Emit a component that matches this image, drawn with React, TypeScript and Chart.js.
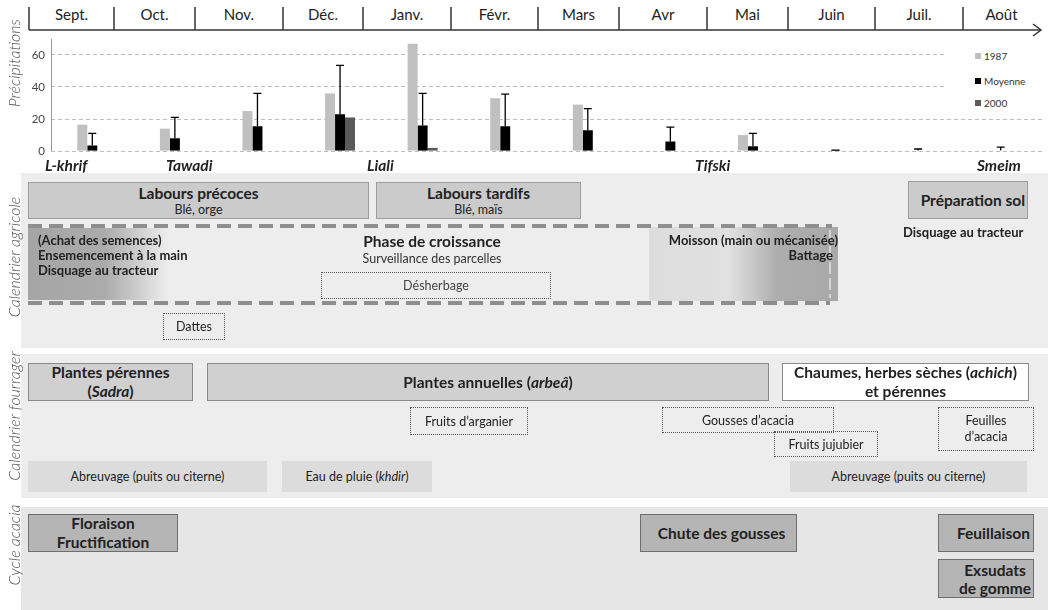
import React, { useEffect, useRef } from 'react';
import { Chart, registerables } from 'chart.js';

Chart.register(...registerables);

// ---------- data ----------
const months = ['Sept.', 'Oct.', 'Nov.', 'Déc.', 'Janv.', 'Févr.', 'Mars', 'Avr', 'Mai', 'Juin', 'Juil.', 'Août'];
const rain1987 = [16.5, 14, 25, 36, 67, 33, 29, 0, 10, 0, 0, 0];
const rainMean = [3.5, 8, 15.5, 23, 16, 15.5, 13, 6, 3, 0.5, 0.3, 0.3];
const rainMeanErrTop = [11, 21, 36, 53.5, 36, 35.5, 26.5, 15, 11, 0.6, 1.3, 2.5];
const rain2000 = [0, 0, 0, 21, 2, 0, 0, 0, 0, 0, 0, 0];
const yTicks = [0, 20, 40, 60];
const seriesNames = ['1987', 'Moyenne', '2000'];
const seasons = ['L-khrif', 'Tawadi', 'Liali', 'Tifski', 'Smeim'];

// ---------- layout / style ----------
const FF = 'Lato, "Open Sans", "Noto Sans", sans-serif';
const monthEdges = [29, 114, 195, 283, 363, 451, 538, 619, 707, 788, 875, 963, 1040];
const seasonX = [45, 166, 367, 695, 977];
const seriesColors = ['#c0c0c0', '#000000', '#5a5a5a'];
const legendY = [56, 81, 103];

const errorBarPlugin = {
  id: 'errbars',
  afterDatasetsDraw(chart: any) {
    const ctx = chart.ctx;
    const meta = chart.getDatasetMeta(1);
    const ys = chart.scales.y;
    ctx.save();
    ctx.strokeStyle = '#000';
    ctx.lineWidth = 1.3;
    meta.data.forEach((el: any, i: number) => {
      const top = ys.getPixelForValue(rainMeanErrTop[i]);
      const x = el.x;
      ctx.beginPath();
      ctx.moveTo(x, el.y);
      ctx.lineTo(x, top);
      ctx.moveTo(x - 4, top);
      ctx.lineTo(x + 4, top);
      ctx.stroke();
    });
    const a = chart.chartArea;
    ctx.strokeStyle = '#9a9a9a';
    ctx.lineWidth = 1;
    ctx.beginPath();
    ctx.moveTo(Math.round(a.left) + 0.5, a.top);
    ctx.lineTo(Math.round(a.left) + 0.5, a.bottom);
    ctx.stroke();
    ctx.restore();
  },
};

function RainChart() {
  const ref = useRef<HTMLCanvasElement | null>(null);
  useEffect(() => {
    if (!ref.current) return;
    const chart = new Chart(ref.current, {
      type: 'bar',
      data: {
        labels: months,
        datasets: [
          { label: seriesNames[0], data: rain1987, backgroundColor: seriesColors[0] },
          { label: seriesNames[1], data: rainMean, backgroundColor: seriesColors[1] },
          { label: seriesNames[2], data: rain2000, backgroundColor: seriesColors[2] },
        ],
      },
      options: {
        responsive: false,
        animation: false,
        events: [],
        layout: { padding: { left: 0, right: 8, top: 8, bottom: 8 } },
        datasets: { bar: { categoryPercentage: 0.363, barPercentage: 1.0 } },
        plugins: { legend: { display: false }, tooltip: { enabled: false }, title: { display: false } },
        scales: {
          x: { type: 'category', display: false, grid: { display: false } },
          y: {
            min: 0,
            max: 70,
            afterBuildTicks: (s: any) => {
              s.ticks = yTicks.map((v) => ({ value: v }));
            },
            afterFit: (s: any) => {
              s.width = 51;
            },
            ticks: { font: { family: FF, size: 11.5 }, color: '#444', padding: 6 },
            grid: { color: '#bdbdbd', drawTicks: false, lineWidth: 1 },
            border: { display: false, dash: [4, 3] },
          },
        },
      } as any,
      plugins: [errorBarPlugin],
    });
    return () => chart.destroy();
  }, []);
  return (
    <canvas
      ref={ref}
      width={1050}
      height={138}
      style={{ position: 'absolute', left: 0, top: 26, width: 1050, height: 138 }}
    />
  );
}

type BoxProps = {
  x: number; y: number; w: number; h: number;
  bg?: string; border?: string; style?: React.CSSProperties; children?: React.ReactNode;
};
function Box({ x, y, w, h, bg, border, style, children }: BoxProps) {
  return (
    <div
      style={{
        position: 'absolute', left: x, top: y, width: w, height: h, boxSizing: 'border-box',
        background: bg || 'transparent', border: border || 'none',
        display: 'flex', flexDirection: 'column', justifyContent: 'center', alignItems: 'center',
        textAlign: 'center', color: '#222', fontFamily: FF, whiteSpace: 'nowrap', ...style,
      }}
    >
      {children}
    </div>
  );
}

function Txt({ x, y, children, style }: { x: number; y: number; children: React.ReactNode; style?: React.CSSProperties }) {
  return (
    <div style={{ position: 'absolute', left: x, top: y, whiteSpace: 'nowrap', fontFamily: FF, color: '#222', ...style }}>
      {children}
    </div>
  );
}

function SideLabel({ cx, cy, text }: { cx: number; cy: number; text: string }) {
  return (
    <div
      style={{
        position: 'absolute', left: cx, top: cy, transform: 'translate(-50%, -50%) rotate(-90deg)',
        whiteSpace: 'nowrap', fontFamily: FF, fontStyle: 'italic', fontWeight: 300, fontSize: 16, color: '#555',
      }}
    >
      {text}
    </div>
  );
}

const bold14: React.CSSProperties = { fontWeight: 700, fontSize: 15.5, lineHeight: '19px' };
const small: React.CSSProperties = { fontSize: 12.5, lineHeight: '15px' };
const smallBold: React.CSSProperties = { fontSize: 13, fontWeight: 700, lineHeight: '15px' };
const dotted = '1.5px dotted #555';
const dashBg = 'repeating-linear-gradient(to right, #8e8e8e 0px, #8e8e8e 14px, transparent 14px, transparent 21px)';

export default function App() {
  return (
    <div style={{ position: 'fixed', left: 0, top: 0, width: 1055, height: 610, background: '#fff', overflow: 'hidden', fontFamily: FF }}>
      {/* month header */}
      <svg width={1055} height={40} style={{ position: 'absolute', left: 0, top: 0 }}>
        <line x1={29} y1={30} x2={1040} y2={30} stroke="#333" strokeWidth={1.5} />
        {monthEdges.slice(0, 12).map((x, i) => (
          <line key={i} x1={x} y1={7} x2={x} y2={30} stroke="#333" strokeWidth={1.5} />
        ))}
        <polyline points="1033,24 1041,30 1033,36" fill="none" stroke="#333" strokeWidth={1.5} />
      </svg>
      {months.map((m, i) => (
        <div
          key={m}
          style={{
            position: 'absolute', left: monthEdges[i], width: monthEdges[i + 1] - monthEdges[i], top: 5,
            textAlign: 'center', fontSize: 15, lineHeight: '19px', color: '#222', fontFamily: FF,
          }}
        >
          {m}
        </div>
      ))}

      {/* rainfall chart */}
      <RainChart />
      <SideLabel cx={13} cy={63} text="Précipitations" />
      <div style={{ position: 'absolute', left: 944, top: 42, width: 98, height: 72, background: '#fff' }} />
      {seriesNames.map((n, i) => (
        <div key={n} style={{ position: 'absolute', left: 975, top: legendY[i] - 7, height: 14, display: 'flex', alignItems: 'center', fontSize: 10, color: '#333', fontFamily: FF }}>
          <span style={{ display: 'inline-block', width: 6, height: 6, background: seriesColors[i], marginRight: 3 }} />
          {n}
        </div>
      ))}

      {/* seasons */}
      {seasons.map((s, i) => (
        <Txt key={s} x={seasonX[i]} y={156} style={{ fontWeight: 700, fontStyle: 'italic', fontSize: 15.5, lineHeight: '18px' }}>
          {s}
        </Txt>
      ))}

      {/* ---------- Calendrier agricole ---------- */}
      <div style={{ position: 'absolute', left: 21, top: 173, width: 1027, height: 175, background: '#ededed' }} />
      <SideLabel cx={13} cy={257} text="Calendrier agricole" />
      <Box x={28} y={182} w={341} h={37} bg="#cbcbcb" border="1px solid #9e9e9e">
        <div style={bold14}>Labours précoces</div>
        <div style={{ ...small, lineHeight: '14px' }}>Blé, orge</div>
      </Box>
      <Box x={376} y={182} w={205} h={37} bg="#cbcbcb" border="1px solid #9e9e9e">
        <div style={bold14}>Labours tardifs</div>
        <div style={{ ...small, lineHeight: '14px' }}>Blé, maïs</div>
      </Box>
      <Box x={908} y={181} w={120} h={38} bg="#cbcbcb" border="1px solid #9e9e9e" style={{ alignItems: 'flex-end', paddingRight: 2 }}>
        <div style={bold14}>Préparation sol</div>
      </Box>
      <Txt x={903} y={225} style={smallBold}>Disquage au tracteur</Txt>

      {/* gradients */}
      <div style={{ position: 'absolute', left: 28, top: 228, width: 140, height: 72, background: 'linear-gradient(to right, #a5a5a5 0%, #ababab 55%, #ededed 100%)' }} />
      <div style={{ position: 'absolute', left: 649, top: 227, width: 189, height: 74, background: 'linear-gradient(to right, #dcdcdc 0%, #e1e1e1 42%, #c8c8c8 55%, #adadad 68%, #a9a9a9 100%)' }} />
      <div style={{ position: 'absolute', left: 829, top: 230, width: 2, height: 68, background: 'repeating-linear-gradient(to bottom, rgba(255,255,255,0.5) 0px, rgba(255,255,255,0.5) 12px, transparent 12px, transparent 16px)' }} />
      {/* dashed frame */}
      <div style={{ position: 'absolute', left: 28, top: 224, width: 804, height: 4, background: dashBg }} />
      <div style={{ position: 'absolute', left: 28, top: 301, width: 802, height: 4, background: dashBg }} />

      <Txt x={38} y={233} style={smallBold}>
        (Achat des semences)<br />Ensemencement à la main<br />Disquage au tracteur
      </Txt>
      <div style={{ position: 'absolute', left: 282, width: 300, top: 232, textAlign: 'center', fontFamily: FF, color: '#222' }}>
        <div style={{ ...bold14, lineHeight: '19px' }}>Phase de croissance</div>
        <div style={{ ...small, color: '#333' }}>Surveillance des parcelles</div>
      </div>
      <Box x={321} y={272} w={230} h={27} border={dotted} style={{ ...small, color: '#444' }}>Désherbage</Box>
      <div style={{ position: 'absolute', left: 587, width: 251, top: 233, textAlign: 'right', fontFamily: FF, color: '#222', ...smallBold }}>
        <div>Moisson (main ou mécanisée)</div>
        <div style={{ paddingRight: 5 }}>Battage</div>
      </div>
      <Box x={163} y={313} w={62} h={27} border={dotted} style={small}>Dattes</Box>

      {/* ---------- Calendrier fourrager ---------- */}
      <div style={{ position: 'absolute', left: 21, top: 354, width: 1027, height: 144, background: '#ededed' }} />
      <SideLabel cx={13} cy={416} text="Calendrier fourrager" />
      <Box x={28} y={363} w={165} h={38} bg="#d0d0d0" border="1px solid #8a8a8a">
        <div style={bold14}>Plantes pérennes</div>
        <div style={bold14}>(<i>Sadra</i>)</div>
      </Box>
      <Box x={207} y={363} w={562} h={38} bg="#d0d0d0" border="1px solid #8a8a8a">
        <div style={bold14}>Plantes annuelles (<i>arbeâ</i>)</div>
      </Box>
      <Box x={782} y={363} w={247} h={38} bg="#ffffff" border="1px solid #8a8a8a">
        <div style={bold14}>Chaumes, herbes sèches (<i>achich</i>)</div>
        <div style={bold14}>et pérennes</div>
      </Box>
      <Box x={410} y={407} w={118} h={28} border={dotted} style={small}>Fruits d’arganier</Box>
      <Box x={662} y={407} w={172} h={26} border={dotted} style={small}>Gousses d’acacia</Box>
      <Box x={774} y={431} w={104} h={26} border={dotted} style={small}>Fruits jujubier</Box>
      <Box x={938} y={407} w={96} h={44} border={dotted} style={{ ...small, lineHeight: '16px' }}>
        <div>Feuilles</div>
        <div>d’acacia</div>
      </Box>
      <Box x={28} y={461} w={239} h={31} bg="#dcdcdc" style={small}>Abreuvage (puits ou citerne)</Box>
      <Box x={282} y={461} w={150} h={31} bg="#dcdcdc" style={small}>
        <div>Eau de pluie (<i>khdir</i>)</div>
      </Box>
      <Box x={790} y={461} w={237} h={31} bg="#dcdcdc" style={small}>Abreuvage (puits ou citerne)</Box>

      {/* ---------- Cycle acacia ---------- */}
      <div style={{ position: 'absolute', left: 21, top: 507, width: 1027, height: 103, background: '#e6e6e6' }} />
      <SideLabel cx={13} cy={545} text="Cycle acacia" />
      <Box x={28} y={514} w={150} h={38} bg="#b5b5b5" border="1px solid #6e6e6e">
        <div style={bold14}>Floraison</div>
        <div style={bold14}>Fructification</div>
      </Box>
      <Box x={640} y={514} w={157} h={38} bg="#b5b5b5" border="1px solid #6e6e6e" style={{ paddingLeft: 6 }}>
        <div style={bold14}>Chute des gousses</div>
      </Box>
      <Box x={938} y={514} w={96} h={38} bg="#b5b5b5" border="1px solid #6e6e6e" style={{ alignItems: 'flex-end', paddingRight: 3 }}>
        <div style={bold14}>Feuillaison</div>
      </Box>
      <Box x={938} y={559} w={96} h={39} bg="#b5b5b5" border="1px solid #6e6e6e" style={{ alignItems: 'flex-end', paddingRight: 2 }}>
        <div style={{ ...bold14, lineHeight: '18px', textAlign: 'center' }}>Exsudats<br />de gomme</div>
      </Box>
    </div>
  );
}
